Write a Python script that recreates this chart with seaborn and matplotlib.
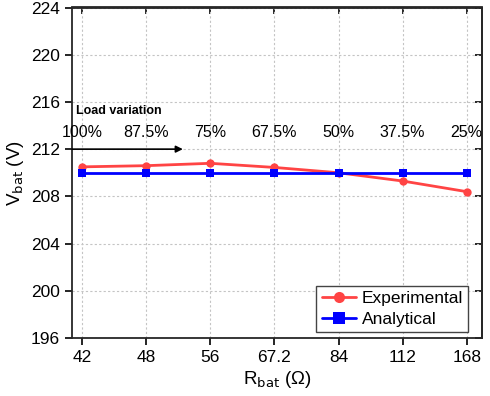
import matplotlib
matplotlib.use("Agg")
import matplotlib.pyplot as plt
import seaborn as sns
import pandas as pd

categories = ["42", "48", "56", "67.2", "84", "112", "168"]
experimental = [210.5, 210.6, 210.8, 210.45, 210.0, 209.3, 208.4]
analytical = [210.0, 210.0, 210.0, 210.0, 210.0, 210.0, 210.0]
load_labels = ["100%", "87.5%", "75%", "67.5%", "50%", "37.5%", "25%"]
yticks = [196, 200, 204, 208, 212, 216, 220, 224]

sns.set_style("ticks")
plt.rcParams['font.family'] = ['Liberation Sans', 'DejaVu Sans']
plt.rcParams['text.color'] = 'black'
plt.rcParams['axes.labelcolor'] = 'black'
plt.rcParams['xtick.color'] = 'black'
plt.rcParams['ytick.color'] = 'black'

df = pd.DataFrame({
    "x": list(range(len(categories))) * 2,
    "y": experimental + analytical,
    "series": ["Experimental"] * len(categories) + ["Analytical"] * len(categories),
})

fig = plt.figure(figsize=(4.9, 3.96), dpi=100)
ax = fig.add_axes([72/490, 1-338/396, (482-72)/490, (338-7.5)/396])

sns.lineplot(data=df, x="x", y="y", hue="series", style="series",
             palette={"Experimental": "#ff4444", "Analytical": "#0000ff"},
             markers={"Experimental": "o", "Analytical": "s"},
             dashes=False, linewidth=2, markersize=6, markeredgewidth=0,
             ax=ax, legend=True)

ax.set_xlim(-0.16, 6.24)
ax.set_ylim(196, 224)
ax.set_xticks(range(len(categories)))
ax.set_xticklabels(categories)
ax.set_yticks(yticks)
ax.tick_params(axis='both', which='major', labelsize=12.5, direction='out', length=5, width=1.2,
               bottom=True, left=True)
secy = ax.secondary_yaxis('right')
secy.set_yticks(yticks, labels=[])
secy.tick_params(direction='in', length=5, width=1.2)
secx = ax.secondary_xaxis('top')
secx.set_xticks(range(len(categories)), labels=[])
secx.tick_params(direction='in', length=5, width=1.2)
for a in (secx, secy, ax):
    for s in a.spines.values():
        s.set_linewidth(1.3)
ax.grid(True, linestyle=(0, (2, 2)), color="#c4c4c4", linewidth=0.8)

ax.set_xlabel("R$_{\\mathrm{bat}}$ (Ω)", fontsize=13.5, labelpad=3)
ax.set_ylabel("V$_{\\mathrm{bat}}$ (V)", fontsize=13.5, labelpad=4)

ax.text(-0.09, 215.2, "Load variation", fontsize=9, fontweight="bold", va="center", ha="left")
for i, lab in enumerate(load_labels):
    ax.text(i, 213.45, lab, fontsize=11.5, ha="center", va="center")
ax.annotate("", xy=(1.57, 212), xytext=(-0.16, 212),
            arrowprops=dict(arrowstyle="-|>", color="black", lw=1.2, mutation_scale=10,
                            shrinkA=0, shrinkB=0))

h, l = ax.get_legend_handles_labels()
for hh in h:
    hh.set_markersize(8)
ax.legend(h, l, loc="lower right", bbox_to_anchor=(0.966, 0.018), fontsize=12.5,
          frameon=True, fancybox=False, edgecolor="#444444", framealpha=1,
          borderpad=0.3, handlelength=2.0, labelspacing=0.3, borderaxespad=0,
          handletextpad=0.3)

fig.savefig("out.png", dpi=100)
